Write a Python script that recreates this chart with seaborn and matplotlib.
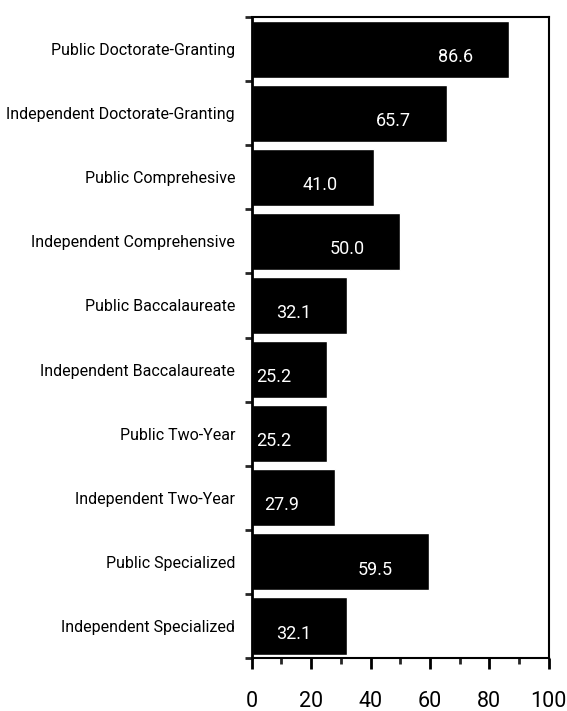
import numpy as np
import pandas as pd
import matplotlib
matplotlib.use("Agg")
import matplotlib.pyplot as plt
from matplotlib.ticker import MultipleLocator, FixedLocator
import seaborn as sns

categories = [
    "Public Doctorate-Granting",
    "Independent Doctorate-Granting",
    "Public Comprehesive",
    "Independent Comprehensive",
    "Public Baccalaureate",
    "Independent Baccalaureate",
    "Public Two-Year",
    "Independent Two-Year",
    "Public Specialized",
    "Independent Specialized",
]
values = [86.6, 65.7, 41.0, 50.0, 32.1, 25.2, 25.2, 27.9, 59.5, 32.1]

df = pd.DataFrame({"category": categories, "value": values})

sns.set_style("ticks")
plt.rcParams["font.family"] = ["Roboto", "DejaVu Sans"]

fig = plt.figure(figsize=(5.67, 7.11), dpi=100)
ax = fig.add_axes([0.444, 0.0745, 0.524, 0.9015])

sns.barplot(data=df, x="value", y="category", orient="h", color="black",
            width=0.89, saturation=1, ax=ax)

# value labels inside bars, a bit left of the bar end
for i, v in enumerate(values):
    ax.text(v - 12, i + 0.12, f"{v:.1f}", color="white", ha="right",
            va="center", fontsize=13)

ax.set_xlim(0, 100)
ax.set_ylim(len(categories) - 0.5, -0.5)
ax.set_xlabel("")
ax.set_ylabel("")

ax.xaxis.set_major_locator(MultipleLocator(20))
ax.xaxis.set_minor_locator(MultipleLocator(10))
ax.tick_params(axis="x", which="major", length=8, width=2, labelsize=15.5,
               pad=16, colors="black")
ax.tick_params(axis="x", which="minor", length=4, width=2)

ax.yaxis.set_minor_locator(FixedLocator(np.arange(len(categories) + 1) - 0.5))
ax.tick_params(axis="y", which="major", length=0, labelsize=11.5, pad=12,
               colors="black")
ax.tick_params(axis="y", which="minor", length=5, width=2)

for side in ["top", "right", "bottom", "left"]:
    ax.spines[side].set_visible(True)
    ax.spines[side].set_color("black")
    ax.spines[side].set_linewidth(1.5)
ax.spines["left"].set_linewidth(2)

fig.savefig("out.png", dpi=100)
